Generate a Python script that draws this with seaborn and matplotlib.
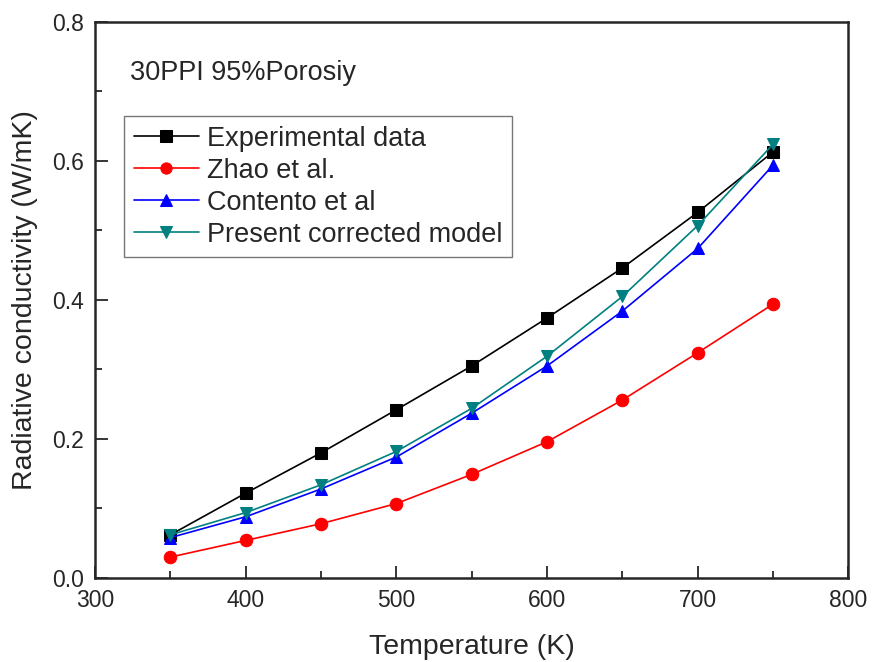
import matplotlib.pyplot as plt
import seaborn as sns
import pandas as pd
from matplotlib.ticker import MultipleLocator

# data
temperature = [350, 400, 450, 500, 550, 600, 650, 700, 750]
experimental = [0.062, 0.122, 0.180, 0.242, 0.305, 0.374, 0.446, 0.526, 0.613]
zhao = [0.030, 0.054, 0.078, 0.107, 0.149, 0.196, 0.256, 0.324, 0.394]
contento = [0.058, 0.088, 0.128, 0.174, 0.237, 0.305, 0.384, 0.474, 0.594]
corrected = [0.062, 0.094, 0.134, 0.182, 0.244, 0.319, 0.405, 0.507, 0.624]

labels = ["Experimental data", "Zhao et al.", "Contento et al", "Present corrected model"]
series = [experimental, zhao, contento, corrected]
colors = ["black", "red", "blue", "#008080"]
markers = ["s", "o", "^", "v"]

sns.set_style("ticks")
plt.rcParams['font.family'] = ['Liberation Sans', 'DejaVu Sans']

fig = plt.figure(figsize=(8.72, 6.62), dpi=100)
ax = fig.add_axes([0.109, 0.127, 0.864, 0.840])

for lab, vals, c, m in zip(labels, series, colors, markers):
    df = pd.DataFrame({"T": temperature, "k": vals})
    sns.lineplot(data=df, x="T", y="k", ax=ax, color=c, marker=m, markersize=9,
                 markeredgecolor=c, linewidth=1.2, label=lab)

ax.set_xlim(300, 800)
ax.set_ylim(0, 0.8)
ax.xaxis.set_major_locator(MultipleLocator(100))
ax.xaxis.set_minor_locator(MultipleLocator(50))
ax.yaxis.set_major_locator(MultipleLocator(0.2))
ax.yaxis.set_minor_locator(MultipleLocator(0.1))
ax.yaxis.set_major_formatter(plt.FormatStrFormatter('%.1f'))
ax.tick_params(which='major', direction='in', length=9, width=1.3, labelsize=16.5, pad=8)
ax.tick_params(which='minor', direction='in', length=5, width=1.3)
for s in ax.spines.values():
    s.set_linewidth(1.8)

ax.set_xlabel("Temperature (K)", fontsize=20.5, labelpad=16)
ax.set_ylabel("Radiative conductivity (W/mK)", fontsize=20.5, labelpad=10)
ax.text(0.046, 0.896, "30PPI 95%Porosiy", transform=ax.transAxes, fontsize=19.5, va='baseline')

leg = ax.legend(loc='upper left', bbox_to_anchor=(0.0385, 0.83), fontsize=19.5, frameon=True,
                fancybox=False, edgecolor='#555555', handlelength=2.4, handletextpad=0.3,
                borderpad=0.35, labelspacing=0.22, borderaxespad=0, markerscale=0.9)
leg.get_frame().set_linewidth(1.0)

plt.savefig("out.png", dpi=100)
